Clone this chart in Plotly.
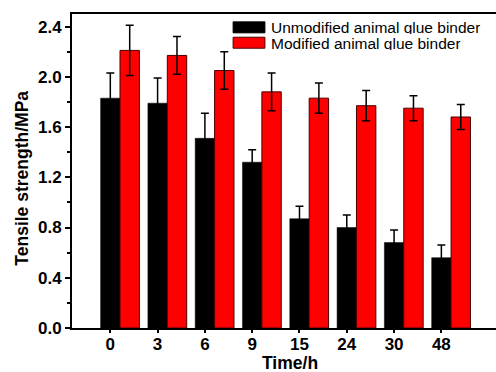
import plotly.graph_objects as go

times = ["0", "3", "6", "9", "15", "24", "30", "48"]
unmodified = [1.83, 1.79, 1.51, 1.32, 0.87, 0.80, 0.68, 0.56]
unmodified_err = [0.20, 0.20, 0.20, 0.10, 0.10, 0.10, 0.10, 0.10]
modified = [2.21, 2.17, 2.05, 1.88, 1.83, 1.77, 1.75, 1.68]
modified_err = [0.20, 0.15, 0.15, 0.15, 0.12, 0.12, 0.10, 0.10]
y_ticks = [0.0, 0.4, 0.8, 1.2, 1.6, 2.0, 2.4]
series_names = ["Unmodified animal glue binder", "Modified animal glue binder"]
x_title = "Time/h"
y_title = "Tensile strength/MPa"

FONT = "Liberation Sans, Arial, sans-serif"
idx = list(range(len(times)))

fig = go.Figure()
fig.add_trace(go.Bar(
    x=idx, y=unmodified, name=series_names[0],
    marker=dict(color="#000000", line=dict(color="#000000", width=0.5)),
    error_y=dict(type="data", array=unmodified_err, color="#000000", thickness=1.5, width=4),
))
fig.add_trace(go.Bar(
    x=idx, y=modified, name=series_names[1],
    marker=dict(color="#FF0000", line=dict(color="#4a0000", width=1)),
    error_y=dict(type="data", array=modified_err, color="#000000", thickness=1.5, width=4),
))

fig.update_layout(
    width=496, height=372,
    margin=dict(l=72, r=0, t=14, b=44),
    paper_bgcolor="white", plot_bgcolor="white",
    barmode="group", bargap=0.18, bargroupgap=0,
    showlegend=False,
    font=dict(family=FONT, color="black"),
)
fig.update_xaxes(
    range=[-1.015, 7.95],
    tickvals=[i - 0.205 for i in idx], ticktext=times,
    ticks="outside", ticklen=3, tickwidth=1.5, tickcolor="black",
    ticklabelstandoff=-3,
    tickfont=dict(family=FONT, size=17, color="black", weight="bold"),
    showline=True, linecolor="black", linewidth=2, mirror=True,
    showgrid=False, zeroline=False,
)
fig.update_yaxes(
    range=[0, 2.5],
    tickvals=y_ticks, ticktext=[f"{v:.1f}" for v in y_ticks],
    ticks="outside", ticklen=5, tickwidth=1.5, tickcolor="black",
    minor=dict(dtick=0.2, tick0=0, ticks="outside", ticklen=3, tickwidth=1.5, tickcolor="black", showgrid=False),
    tickfont=dict(family=FONT, size=17, color="black", weight="bold"),
    showline=True, linecolor="black", linewidth=2, mirror=False,
    showgrid=False, zeroline=False,
)

# axis titles as annotations for exact placement
fig.add_annotation(xref="paper", yref="paper", x=0.514, y=-0.111,
                   text=f"<b>{x_title}</b>", showarrow=False,
                   xanchor="center", yanchor="middle",
                   font=dict(family=FONT, size=17.5, color="black"))
fig.add_annotation(xref="paper", yref="paper", x=-0.12, y=0.476,
                   text=f"<b>{y_title}</b>", showarrow=False, textangle=-90,
                   xanchor="center", yanchor="middle",
                   font=dict(family=FONT, size=17.5, color="black"))

# manual legend (wide swatches)
legend_colors = [("#000000", "#000000"), ("#FF0000", "#4a0000")]
legend_rows = [(0.975, 0.940), (0.926, 0.891)]
for (fill, edge), (y1, y0), name in zip(legend_colors, legend_rows, series_names):
    fig.add_shape(type="rect", xref="paper", yref="paper",
                  x0=0.380, x1=0.455, y0=y0, y1=y1,
                  fillcolor=fill, line=dict(color=edge, width=1))
    fig.add_annotation(xref="paper", yref="paper", x=0.465, y=(y0 + y1) / 2,
                       text=name, showarrow=False, xanchor="left", yanchor="middle",
                       height=14,
                       font=dict(family=FONT, size=15.5, color="black"))

fig.write_html(
    "out.html",
    config={"displayModeBar": False},
    post_script="document.body.style.margin='0';document.body.style.overflow='hidden';",
)
